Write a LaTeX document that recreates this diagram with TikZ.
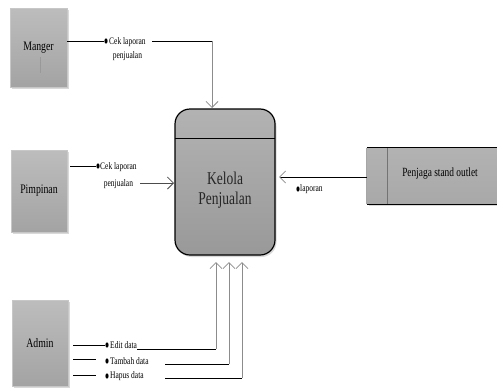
\documentclass[tikz,border=0pt]{standalone}
\usepackage{fontspec}
\setmainfont{Liberation Serif}[FakeStretch=0.75]
\usetikzlibrary{arrows.meta,shadows}

\begin{document}
\begin{tikzpicture}[x=1pt,y=-1pt,
  shade/.style={drop shadow={shadow xshift=1.5pt,shadow yshift=-2pt,opacity=.3}},
  entity/.style={draw=black!22, line width=0.5pt, top color=black!26, bottom color=black!36,
    shade, inner sep=0pt, font=\fontsize{13}{14}\selectfont},
  procbox/.style={draw=black, line width=1.2pt, rounded corners=15pt, top color=black!30,
    bottom color=black!40, shade, inner sep=0pt},
  lbl/.style={inner sep=0pt, font=\fontsize{10}{14}\selectfont},
  flow/.style={draw=black!45, line width=1pt, -{Straight Barb[length=6pt,width=12pt,line width=0.8pt]}},
  wire/.style={draw=black, line width=0.8pt},
  bullet/.style={fill=black},
]
\useasboundingbox (0,0) rectangle (497,388);

% external entities
\node[entity, minimum width=57pt, minimum height=79pt] (manager) at (38.5,47.5) {Manger};
\node[entity, minimum width=56pt, minimum height=82pt] (pimpinan) at (39,191) {Pimpinan};
\node[entity, minimum width=56pt, minimum height=86pt] (admin) at (40,343) {Admin};
\draw[black!40, line width=1pt] (40,57) -- (40,73);

% process
\node[procbox, minimum width=100pt, minimum height=146pt] (proc) at (225,182) {};
\coordinate (divL) at (175,138);
\coordinate (divR) at (275,138);
\draw[black, line width=1pt] (divL) -- (divR);
\node[inner sep=0pt, align=center, text=black!85, font=\fontsize{18}{20}\selectfont] (proclabel) at (225,190) {Kelola\\Penjualan};

% store / outlet entity
\node[inner sep=0pt, minimum width=134pt, minimum height=56pt, top color=black!30,
  bottom color=black!34, shade] (penjaga) at (434,176) {};
\draw[black!35, line width=0.8pt] (penjaga.north west) -- (penjaga.south west);
\draw[black, line width=1pt] (penjaga.north west) -- (penjaga.north east);
\draw[black, line width=1pt] (penjaga.south west) -- (penjaga.south east);
\coordinate (pdT) at (387,148);
\coordinate (pdB) at (387,204);
\draw[black!55, line width=1pt] (pdT) -- (pdB);
\node[inner sep=0pt, font=\fontsize{12.5}{14}\selectfont] (penjagalabel) at (440,174) {Penjaga stand outlet};

% Manger -> Kelola Penjualan
\coordinate (mA) at (67,41);
\coordinate (mB) at (104,41);
\coordinate (mC) at (152,41);
\coordinate (mD) at (212,41);
\coordinate (mT) at (212,108);
\draw[wire] (mA) -- (mB);
\fill[bullet] (106,41) ellipse (1.6pt and 2.6pt);
\node[lbl, align=center, anchor=north west] (mlab) at (109,37.5) {Cek laporan\\penjualan};
\draw[wire] (mC) -- (mD);
\draw[flow] (mD) -- (mT);

% Pimpinan -> Kelola Penjualan
\coordinate (pA) at (70,166);
\coordinate (pB) at (96,166);
\coordinate (pC) at (140,183);
\coordinate (pT) at (174,183);
\draw[wire] (pA) -- (pB);
\fill[bullet] (98,166) ellipse (1.6pt and 2.6pt);
\node[lbl, align=center, anchor=north west] (plab) at (100,162.5) {Cek laporan\\[3pt]penjualan};
\draw[flow, draw=black!70] (pC) -- (pT);

% Penjaga stand outlet -> Kelola Penjualan
\coordinate (oA) at (367,177);
\coordinate (oT) at (279,177);
\draw[wire, -{Straight Barb[length=6pt,width=12pt,line width=0.8pt,color=black!45]}] (oA) -- (oT);
\fill[bullet] (298,189) ellipse (1.6pt and 2.6pt);
\node[lbl, anchor=west] (olab) at (300,189) {laporan};

% Admin -> Kelola Penjualan
\coordinate (a1A) at (73,345);
\coordinate (a1B) at (105,345);
\coordinate (a1C) at (137,349);
\coordinate (a1D) at (216,349);
\coordinate (a1T) at (216,262);
\draw[wire] (a1A) -- (a1B);
\fill[bullet] (107,345) ellipse (1.6pt and 2.6pt);
\node[lbl, anchor=west] (a1lab) at (110,345) {Edit data};
\draw[wire] (a1C) -- (a1D);
\draw[flow] (a1D) -- (a1T);

\coordinate (a2A) at (73,359);
\coordinate (a2B) at (96,359);
\coordinate (a2C) at (165,364);
\coordinate (a2D) at (229,364);
\coordinate (a2T) at (229,262);
\draw[wire] (a2A) -- (a2B);
\fill[bullet] (107,361) ellipse (1.6pt and 2.6pt);
\node[lbl, anchor=west] (a2lab) at (110,361) {Tambah data};
\draw[wire] (a2C) -- (a2D);
\draw[flow] (a2D) -- (a2T);

\coordinate (a3A) at (73,375);
\coordinate (a3B) at (96,375);
\coordinate (a3C) at (165,378);
\coordinate (a3D) at (242,378);
\coordinate (a3T) at (242,262);
\draw[wire] (a3A) -- (a3B);
\fill[bullet] (107,376) ellipse (1.6pt and 2.6pt);
\node[lbl, anchor=west] (a3lab) at (110,376) {Hapus data};
\draw[wire] (a3C) -- (a3D);
\draw[flow] (a3D) -- (a3T);
\end{tikzpicture}
\end{document}
